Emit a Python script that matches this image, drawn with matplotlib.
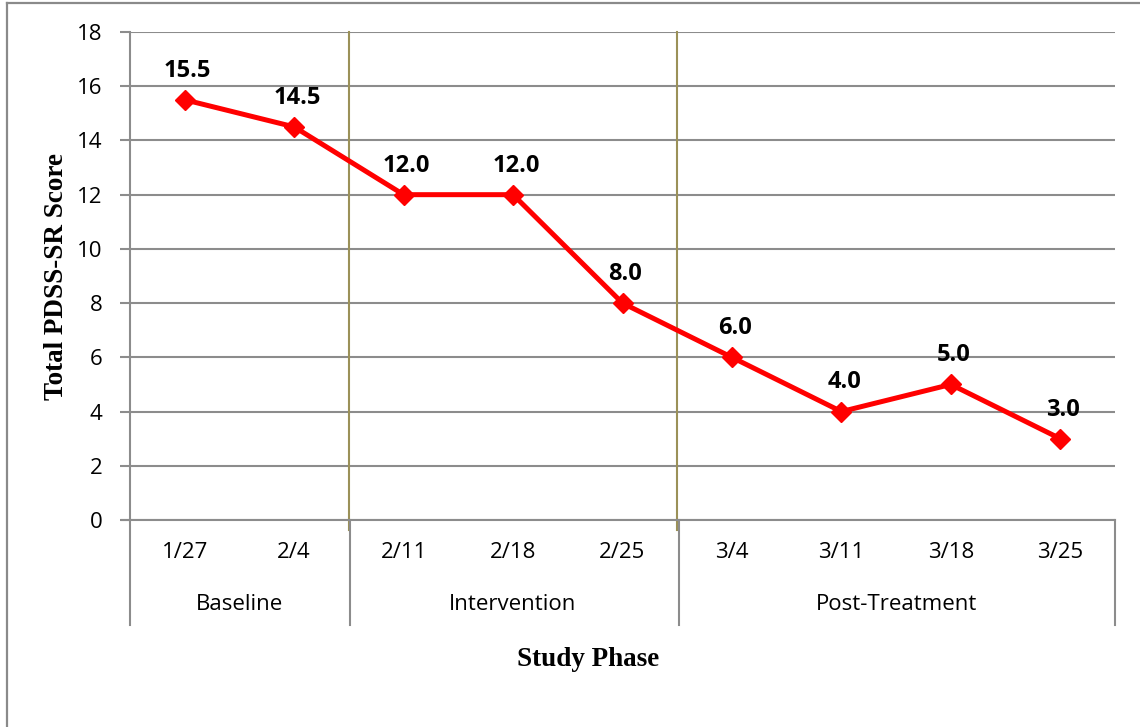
import matplotlib
matplotlib.use("Agg")
import matplotlib.pyplot as plt
import matplotlib.transforms as mtransforms
from matplotlib.lines import Line2D

# Weekly PDSS-SR totals across the study phases
dates = ["1/27", "2/4", "2/11", "2/18", "2/25", "3/4", "3/11", "3/18", "3/25"]
phases = ["Baseline", "Baseline", "Intervention", "Intervention", "Intervention",
          "Post-Treatment", "Post-Treatment", "Post-Treatment", "Post-Treatment"]
scores = [15.5, 14.5, 12.0, 12.0, 8.0, 6.0, 4.0, 5.0, 3.0]
y_ticks = [0, 2, 4, 6, 8, 10, 12, 14, 16, 18]

SANS = "Open Sans"
SERIF = "Liberation Serif"
GRID = "#8c8c8c"
PHASE_LINE = "#9b9158"

W, H = 1140, 727
fig = plt.figure(figsize=(W / 100, H / 100), dpi=100)
fig.patch.set_facecolor("white")

# outer frame (left and top edges)
fig.add_artist(Line2D([6.5 / W, 6.5 / W], [0, 1 - 2.5 / H], transform=fig.transFigure,
                      color="#8a8a8a", lw=1.6))
fig.add_artist(Line2D([6.5 / W, 1], [1 - 2.5 / H, 1 - 2.5 / H], transform=fig.transFigure,
                      color="#8a8a8a", lw=1.6))

left, right = 130 / W, 1115 / W
bottom, top = 1 - 520 / H, 1 - 32 / H
ax = fig.add_axes([left, bottom, right - left, top - bottom])

n = len(dates)
xs = [i + 0.5 for i in range(n)]
ax.set_xlim(0, n)
ax.set_ylim(y_ticks[0], y_ticks[-1])

# horizontal gridlines
ax.set_yticks(y_ticks)
ax.yaxis.grid(True, color=GRID, lw=1.5)
ax.set_axisbelow(True)
for s in ["top", "right", "bottom"]:
    ax.spines[s].set_visible(False)
ax.spines["left"].set_color(GRID)
ax.spines["left"].set_linewidth(1.5)
ax.tick_params(axis="y", length=7, width=1.5, color=GRID, pad=13,
               labelsize=16, labelcolor="black")
for lab in ax.get_yticklabels():
    lab.set_fontfamily(SANS)
ax.set_xticks([])

# phase boundaries
boundaries = [0]
for i in range(1, n):
    if phases[i] != phases[i - 1]:
        boundaries.append(i)
boundaries.append(n)

ax_h = (top - bottom) * H
ax_w = (right - left) * W
trans = mtransforms.blended_transform_factory(ax.transData, ax.transAxes)
for b in boundaries[1:-1]:
    ax.plot([b, b], [-10 / ax_h, 1], transform=trans, color=PHASE_LINE, lw=1.5,
            clip_on=False, zorder=1)

# category axis: baseline line and group separators
ax.plot([-8 / ax_w * n, n], [0, 0], color=GRID, lw=1.5, clip_on=False, zorder=2)
sep_bottom = -(625 - 520) / ax_h
for b in boundaries:
    xb = b + (0.012 if 0 < b < n else 0)
    ax.plot([xb, xb], [sep_bottom, 0], transform=trans, color=GRID, lw=1.5,
            clip_on=False)

for x, d in zip(xs, dates):
    ax.text(x, -(553 - 520) / ax_h, d, transform=trans, ha="center", va="center",
            fontsize=16, fontfamily=SANS)
for a, b in zip(boundaries[:-1], boundaries[1:]):
    ax.text((a + b) / 2, -(605 - 520) / ax_h, phases[a], transform=trans,
            ha="center", va="center", fontsize=16, fontfamily=SANS)

# series
ax.plot(xs, scores, color="#ff0000", lw=3.6, marker="D", markersize=10,
        markeredgecolor="#ff0000", zorder=5, clip_on=False)
for x, v in zip(xs, scores):
    ax.annotate(f"{v:.1f}", (x, v), xytext=(2, 21), textcoords="offset points",
                ha="center", va="center", fontsize=17, fontweight="bold",
                fontfamily=SANS, zorder=6)

# axis titles
ax.text(-(130 - 57) / ax_w, 0.5, "Total PDSS-SR Score",
        transform=ax.transAxes, rotation=90, ha="center", va="center",
        fontsize=19.5, fontweight="bold", fontfamily=SERIF)
ax.text((588 - 130) / ax_w, -(659 - 520) / ax_h, "Study Phase", transform=ax.transAxes,
        ha="center", va="center", fontsize=19.5, fontweight="bold", fontfamily=SERIF)

fig.savefig("out.png", dpi=100, facecolor="white")
